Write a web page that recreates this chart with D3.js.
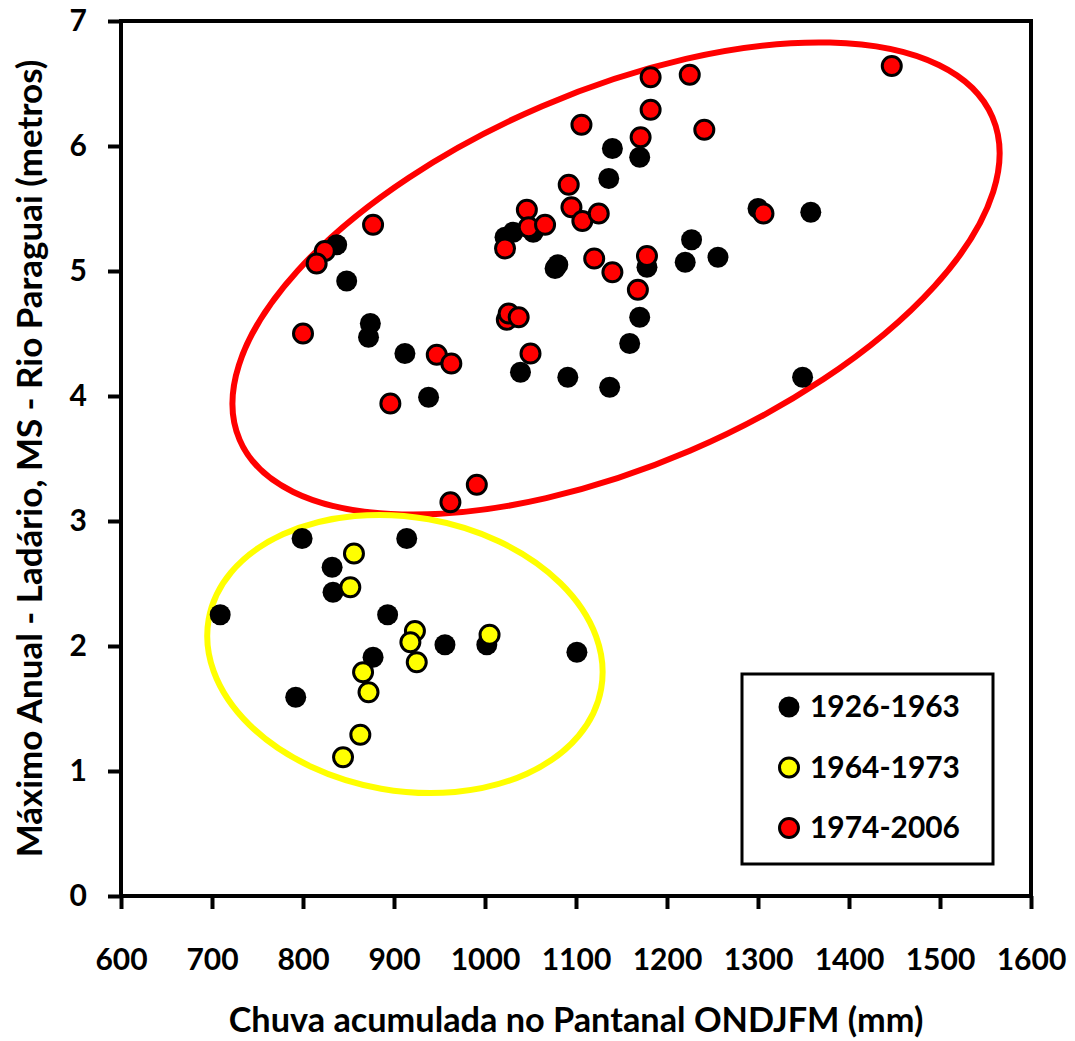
<!DOCTYPE html>
<html>
<head>
<meta charset="utf-8">
<script src="https://cdn.jsdelivr.net/npm/d3@7"></script>
<style>
  body { margin: 0; background: #fff; }
  text { font-family: Lato, "Open Sans", sans-serif; font-weight: bold; }
</style>
</head>
<body>
<svg id="chart"></svg>
<script>
"use strict";

// chuva acumulada (mm) e maximo anual (m)
const black1926 = [
  [837, 5.21], [848, 4.92], [874, 4.58], [872, 4.47], [912, 4.34], [938, 3.99],
  [1140, 5.98], [1170, 5.91], [1136, 5.74], [1053, 5.31], [1022, 5.27], [1031, 5.31],
  [1077, 5.02], [1080, 5.05], [1178, 5.03], [1227, 5.25], [1220, 5.07], [1256, 5.11],
  [1170, 4.63], [1159, 4.42], [1039, 4.19], [1091, 4.15], [1137, 4.07], [1300, 5.50],
  [1358, 5.47], [1349, 4.15], [799, 2.86], [914, 2.86], [832, 2.63], [833, 2.43],
  [709, 2.25], [893, 2.25], [956, 2.01], [1002, 2.01], [1101, 1.95], [877, 1.91],
  [792, 1.59]
];
const yellow1964 = [
  [856, 2.74], [852, 2.47], [923, 2.12], [918, 2.03], [1005, 2.09],
  [925, 1.87], [866, 1.79], [872, 1.63], [863, 1.29], [844, 1.11]
];
const red1974 = [
  [877, 5.37], [824, 5.16], [815, 5.06], [800, 4.50], [947, 4.33], [963, 4.26],
  [896, 3.94], [1092, 5.69], [1046, 5.49], [1095, 5.51], [1107, 5.40], [1125, 5.46],
  [1048, 5.35], [1066, 5.37], [1022, 5.18], [1120, 5.10], [1140, 4.99], [1178, 5.12],
  [1168, 4.85], [1024, 4.61], [1026, 4.66], [1037, 4.63], [1050, 4.34], [1182, 6.55],
  [1225, 6.57], [1447, 6.64], [1182, 6.29], [1106, 6.17], [1171, 6.07], [1241, 6.13],
  [1306, 5.46], [991, 3.29], [962, 3.15]
];

const seriesNames = ["1926-1963", "1964-1973", "1974-2006"];
const seriesColors = ["#000000", "#ffff00", "#ff0000"];
const xTicks = [600, 700, 800, 900, 1000, 1100, 1200, 1300, 1400, 1500, 1600];
const yTicks = [0, 1, 2, 3, 4, 5, 6, 7];

// elipses: centro (mm, m), semi-eixos (mm, m), rotacao (graus)
const ellipseRed = { cx: 1144, cy: 4.94, rx: 450, ry: 1.5, angle: -23.2, color: "#ff0000" };
const ellipseYellow = { cx: 912, cy: 1.936, rx: 219, ry: 1.094, angle: 10, color: "#ffff00" };

const width = 1075, height = 1041;
const margin = {top: 21, right: 44, bottom: 145, left: 121};

const svg = d3.select("#chart")
    .attr("width", width)
    .attr("height", height);

const x = d3.scaleLinear().domain([600, 1600]).range([margin.left, width - margin.right]);
const y = d3.scaleLinear().domain([0, 7]).range([height - margin.bottom, margin.top]);

// eixos
const yAxis = svg.append("g")
    .attr("transform", `translate(${margin.left},0)`)
    .call(d3.axisLeft(y).tickValues(yTicks).tickSize(13).tickPadding(21).tickFormat(d3.format("d")));
const xAxis = svg.append("g")
    .attr("transform", `translate(0,${height - margin.bottom})`)
    .call(d3.axisBottom(x).tickValues(xTicks).tickSize(13).tickPadding(40).tickFormat(d3.format("d")));

[xAxis, yAxis].forEach(ax => {
    ax.select(".domain").remove();
    ax.selectAll(".tick line").attr("stroke", "#000").attr("stroke-width", 4);
    ax.selectAll(".tick text").attr("fill", "#000").style("font-size", "30px");
});

// moldura
svg.append("rect")
    .attr("x", x(600)).attr("y", y(7))
    .attr("width", x(1600) - x(600)).attr("height", y(0) - y(7))
    .attr("fill", "none").attr("stroke", "#000").attr("stroke-width", 4);

// elipses
[ellipseRed, ellipseYellow].forEach(e => {
    svg.append("ellipse")
        .attr("transform", `translate(${x(e.cx)},${y(e.cy)}) rotate(${e.angle})`)
        .attr("rx", x(e.cx + e.rx) - x(e.cx))
        .attr("ry", y(e.cy - e.ry) - y(e.cy))
        .attr("fill", "none")
        .attr("stroke", e.color)
        .attr("stroke-width", 6);
});

// pontos
const allSeries = [black1926, yellow1964, red1974];
allSeries.forEach((data, i) => {
    svg.append("g").selectAll("circle").data(data)
        .enter()
        .append("circle")
        .attr("cx", d => x(d[0]))
        .attr("cy", d => y(d[1]))
        .attr("r", i == 0 ? 10.5 : 9.5)
        .attr("fill", seriesColors[i])
        .attr("stroke", "#000")
        .attr("stroke-width", i == 0 ? 0 : 3);
});

// legenda
const legend = svg.append("g");
legend.append("rect")
    .attr("x", 742).attr("y", 674)
    .attr("width", 251).attr("height", 190)
    .attr("fill", "#fff").attr("stroke", "#000").attr("stroke-width", 3);
seriesNames.forEach((name, i) => {
    const cy = 707 + i * 60.5;
    legend.append("circle")
        .attr("cx", 789).attr("cy", cy)
        .attr("r", i == 0 ? 10.5 : 9.5)
        .attr("fill", seriesColors[i])
        .attr("stroke", "#000")
        .attr("stroke-width", i == 0 ? 0 : 3);
    const t = legend.append("text")
        .attr("x", 810).attr("y", cy)
        .attr("dy", "0.35em")
        .style("font-size", "29px")
        .text(name);
    fitWidth(t, 150);
});

// escala o texto ate a largura desejada
function fitWidth(sel, target) {
    const size = parseFloat(sel.style("font-size"));
    const len = sel.node().getComputedTextLength();
    sel.style("font-size", (size * target / len) + "px");
}

const xTitle = svg.append("text")
    .attr("x", (x(600) + x(1600)) / 2)
    .attr("y", 1032)
    .attr("text-anchor", "middle")
    .style("font-size", "28px")
    .text("Chuva acumulada no Pantanal ONDJFM (mm)");
fitWidth(xTitle, 695);

const yTitle = svg.append("text")
    .attr("transform", `translate(42,${(y(0) + y(7)) / 2}) rotate(-90)`)
    .attr("text-anchor", "middle")
    .style("font-size", "28px")
    .text("Máximo Anual - Ladário, MS - Rio Paraguai (metros)");
fitWidth(yTitle, 798);
</script>
</body>
</html>
